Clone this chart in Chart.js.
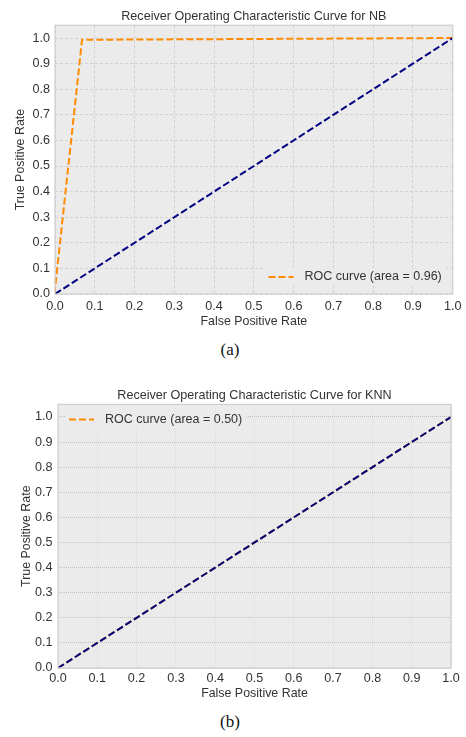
<!DOCTYPE html>
<html>
<head>
<meta charset="utf-8">
<script src="https://cdn.jsdelivr.net/npm/chart.js@4.4.1/dist/chart.umd.min.js"></script>
<style>
  body { margin: 0; background: #fff; width: 466px; height: 737px; position: relative; overflow: hidden; }
  .box { position: absolute; left: 0; width: 466px; }
  .cap { position: absolute; left: 0; width: 460px; text-align: center; font-family: "Liberation Serif", "Times New Roman", serif; font-size: 17px; color: #111; }
</style>
</head>
<body>
<div class="box" style="top:0;height:336px"><canvas id="chartA"></canvas></div>
<div class="cap" style="top:340px">(a)</div>
<div class="box" style="top:378px;height:332px"><canvas id="chartB"></canvas></div>
<div class="cap" style="top:712px">(b)</div>
<script>
// ROC points
var nbFpr = [0.0, 0.0, 0.068, 1.0];
var nbTpr = [0.0, 0.02, 0.993, 1.0];
var knnFpr = [0.0, 1.0];
var knnTpr = [0.0, 1.0];
var chanceFpr = [0.0, 1.0];
var chanceTpr = [0.0, 1.0];
var nbLabel = 'ROC curve (area = 0.96)';
var knnLabel = 'ROC curve (area = 0.50)';
var titleNB = 'Receiver Operating Characteristic Curve for NB';
var titleKNN = 'Receiver Operating Characteristic Curve for KNN';

function pts(xs, ys){
	var out = [];
	for (var i = 0; i < xs.length; i++) out.push({x: xs[i], y: ys[i]});
	return out;
}

var FONT = "'Liberation Sans', Arial, sans-serif";
var TXT = '#333';
var BG = '#ebebeb';

// plot background + frame + inside legend
var frame = {
	id: 'frame',
	beforeDraw: function(chart){
		var a = chart.chartArea, ctx = chart.ctx;
		ctx.save();
		ctx.fillStyle = BG;
		ctx.fillRect(a.left, a.top, a.right - a.left, a.bottom - a.top);
		ctx.restore();
	},
	afterDraw: function(chart, args, opts){
		var a = chart.chartArea, ctx = chart.ctx;
		ctx.save();
		// legend
		var ds = chart.data.datasets[opts.index];
		ctx.font = '12.5px ' + FONT;
		ctx.textBaseline = 'middle';
		var tw = ctx.measureText(ds.label).width;
		var x0, y0;
		if (opts.corner === 'lr') {
			x0 = a.right - 11 - tw - 36;
			y0 = a.bottom - 17;
		} else {
			x0 = a.left + 11;
			y0 = a.top + 15;
		}
		ctx.fillStyle = BG;
		ctx.fillRect(x0 - 4, y0 - 9, tw + 44, 18);
		ctx.strokeStyle = ds.borderColor;
		ctx.lineWidth = 2;
		ctx.setLineDash([7, 3]);
		ctx.beginPath();
		ctx.moveTo(x0, y0);
		ctx.lineTo(x0 + 25, y0);
		ctx.stroke();
		ctx.setLineDash([]);
		ctx.fillStyle = TXT;
		ctx.fillText(ds.label, x0 + 36, y0);
		ctx.strokeStyle = '#cfcfcf';
		ctx.lineWidth = 1.2;
		ctx.strokeRect(a.left, a.top, a.right - a.left, a.bottom - a.top);
		ctx.restore();
	}
};

function makeChart(id, title, rocPts, label, lay){
	var ctx = document.getElementById(id).getContext('2d');
	return new Chart(ctx, {
		type: 'scatter',
		data: {
			datasets: [{
				label: label,
				data: rocPts,
				showLine: true,
				borderColor: 'darkorange',
				borderWidth: 2,
				borderDash: [7, 3],
				pointRadius: 0,
				order: 1
			}, {
				label: 'chance',
				data: pts(chanceFpr, chanceTpr),
				showLine: true,
				borderColor: 'navy',
				borderWidth: 2,
				borderDash: [7, 3],
				pointRadius: 0,
				order: 0
			}]
		},
		plugins: [frame],
		options: {
			responsive: true,
			maintainAspectRatio: false,
			animation: false,
			layout: {padding: {left: 0, right: lay.right, top: 0, bottom: 0}},
			plugins: {
				legend: {display: false},
				tooltip: {enabled: false},
				title: {
					display: true,
					text: title,
					fullSize: false,
					color: TXT,
					font: {family: FONT, size: 12.6, weight: 'normal'},
					padding: {top: lay.tTop, bottom: lay.tBottom}
				},
				frame: {index: 0, corner: lay.corner}
			},
			scales: {
				x: {
					type: 'linear',
					min: 0, max: 1,
					afterFit: function(s){ s.height = 42; },
					ticks: {stepSize: 0.1, padding: lay.xPad, color: TXT, font: {family: FONT, size: 12.6}, maxRotation: 0,
						callback: function(v){ return v.toFixed(1); }},
					grid: {color: lay.vGrid, lineWidth: 1, drawTicks: false},
					border: {display: false, dash: lay.vDash},
					title: {display: true, text: 'False Positive Rate', color: TXT, font: {family: FONT, size: 12.4}, padding: {top: 0, bottom: lay.xtPad}}
				},
				y: {
					type: 'linear',
					min: 0, max: 1.05,
					afterFit: function(s){ s.width = lay.left; },
					ticks: {stepSize: 0.1, includeBounds: false, padding: lay.yPad, color: TXT, font: {family: FONT, size: 12.6},
						callback: function(v){ return v.toFixed(1); }},
					grid: {color: lay.hGrid, lineWidth: 1, drawTicks: false},
					border: {display: false, dash: lay.hDash},
					title: {display: true, text: 'True Positive Rate', color: TXT, font: {family: FONT, size: 12.4}, padding: {top: lay.ytPad, bottom: 0}}
				}
			}
		}
	});
}

makeChart('chartA', titleNB, pts(nbFpr, nbTpr), nbLabel,
	{left: 55, right: 10, tTop: 8.5, tBottom: 1.6, xPad: 4.5, xtPad: 7.4, yPad: 5, ytPad: 13.6,
	 corner: 'lr', vGrid: '#d2d2d2', hGrid: '#d2d2d2', vDash: [3, 2], hDash: [3, 2]});

makeChart('chartB', titleKNN, pts(knnFpr, knnTpr), knnLabel,
	{left: 58, right: 15, tTop: 9.5, tBottom: 1.8, xPad: 3, xtPad: 9.4, yPad: 5.5, ytPad: 19,
	 corner: 'ul', vGrid: '#e3e3e3', hGrid: '#bdbdbd', vDash: [], hDash: [1, 1]});
</script>
</body>
</html>
